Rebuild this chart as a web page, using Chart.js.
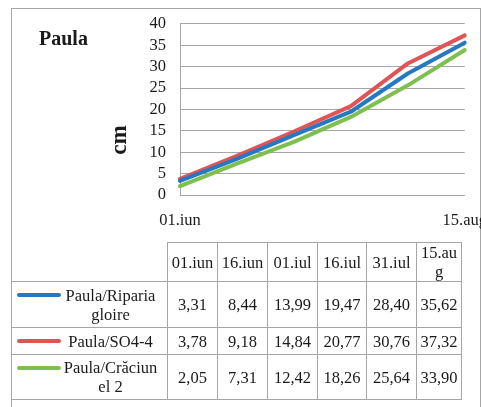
<!DOCTYPE html>
<html>
<head>
<meta charset="utf-8">
<script src="https://cdn.jsdelivr.net/npm/chart.js"></script>
<style>
    html, body { margin: 0; padding: 0; overflow: hidden; background: #fff; }
    body { width: 481px; height: 407px; position: relative; font-family: 'Liberation Serif', 'Times New Roman', serif; color: #1a1a1a; }
    #frame { position: absolute; left: 11px; top: 8px; width: 470px; height: 430px; box-sizing: border-box; border: 1px solid #a6a6a6; }
    #wrap { position: absolute; left: 0; top: 0; width: 495px; height: 407px; }
    .title { position: absolute; font-weight: bold; }
    #ttl { left: 39px; top: 27px; font-size: 20px; line-height: 22px; }
    #ycap { left: 104px; top: 128px; font-size: 23px; line-height: 24px; transform: rotate(-90deg); transform-origin: center; }
    table { position: absolute; left: 11px; top: 242px; border-collapse: collapse; table-layout: fixed; font-size: 16.5px; line-height: 19px; }
    td, th { border: 1px solid #a6a6a6; padding: 0 2px; text-align: center; font-weight: normal; word-break: break-all; }
    th.blank { border-top: none; border-left: none; }
    .leg { display: flex; align-items: flex-start; padding-left: 5px; }
    .leg i { display: block; width: 44px; height: 4px; border-radius: 2px; margin-top: 7.5px; margin-right: 1px; }
    .leg span { display: block; width: 97px; text-align: center; }
</style>
</head>
<body>
<div id="frame"></div>
<div id="wrap"><canvas id="chart" width="495" height="407"></canvas></div>
<div class="title" id="ttl">Paula</div>
<div class="title" id="ycap">cm</div>
<table id="tbl"></table>
<script>
    // data
    const labels = ['01.iun', '16.iun', '01.iul', '16.iul', '31.iul', '15.aug'];
    const seriesNames = ['Paula/Riparia gloire', 'Paula/SO4-4', 'Paula/Crăciunel 2'];
    const ripariaGloire = [3.31, 8.44, 13.99, 19.47, 28.40, 35.62];
    const so44 = [3.78, 9.18, 14.84, 20.77, 30.76, 37.32];
    const craciunel2 = [2.05, 7.31, 12.42, 18.26, 25.64, 33.90];
    const colors = ['#2479c2', '#e05455', '#7ebf4f'];
    const yTicks = [0, 5, 10, 15, 20, 25, 30, 35, 40];

    const allSeries = [ripariaGloire, so44, craciunel2];
    const font = { family: "'Liberation Serif', 'Times New Roman', serif", size: 16.5 };

    new Chart(document.getElementById('chart').getContext('2d'), {
        type: 'line',
        data: {
            labels: labels,
            datasets: allSeries.map((d, i) => ({
                label: seriesNames[i],
                data: d,
                borderColor: colors[i],
                backgroundColor: colors[i],
                borderWidth: 4,
                borderCapStyle: 'round',
                borderJoinStyle: 'round',
                pointRadius: 0,
                tension: 0
            }))
        },
        options: {
            responsive: false,
            animation: false,
            layout: { padding: { top: 19, right: 30, left: 0, bottom: 0 } },
            plugins: { legend: { display: false }, tooltip: { enabled: false } },
            scales: {
                x: {
                    offset: false,
                    grid: { display: false },
                    border: { display: true, color: '#a6a6a6', width: 1 },
                    ticks: {
                        autoSkip: false, maxRotation: 0, padding: 8, color: '#1a1a1a', font: font,
                        callback: (v, i) => (i === 0 || i === labels.length - 1) ? labels[i] : ''
                    },
                    afterFit: s => { s.height = 212; }
                },
                y: {
                    min: yTicks[0],
                    max: yTicks[yTicks.length - 1],
                    grid: { color: '#a6a6a6', lineWidth: 1, drawTicks: false },
                    border: { display: true, color: '#a6a6a6', width: 1 },
                    ticks: { stepSize: 5, autoSkip: false, padding: 14, color: '#1a1a1a', font: font },
                    afterBuildTicks: s => { s.ticks = yTicks.map(v => ({ value: v })); },
                    afterFit: s => { s.width = 180; }
                }
            }
        }
    });

    // data table below the chart
    const fmt = v => v.toFixed(2).replace('.', ',');
    const colW = [156, 50, 50, 50, 49, 50, 45];
    const rowH = [38, 46, 27, 45];
    const tbl = document.getElementById('tbl');
    let html = '<colgroup>' + colW.map(w => `<col style="width:${w}px">`).join('') + '</colgroup>';
    html += `<tr style="height:${rowH[0]}px"><th class="blank"></th>` + labels.map(l => `<th>${l}</th>`).join('') + '</tr>';
    allSeries.forEach((d, i) => {
        html += `<tr style="height:${rowH[i + 1]}px"><td style="padding:0"><div class="leg"><i style="background:${colors[i]}"></i><span>${seriesNames[i]}</span></div></td>`;
        html += d.map(v => `<td>${fmt(v)}</td>`).join('') + '</tr>';
    });
    tbl.innerHTML = html;
</script>
</body>
</html>
